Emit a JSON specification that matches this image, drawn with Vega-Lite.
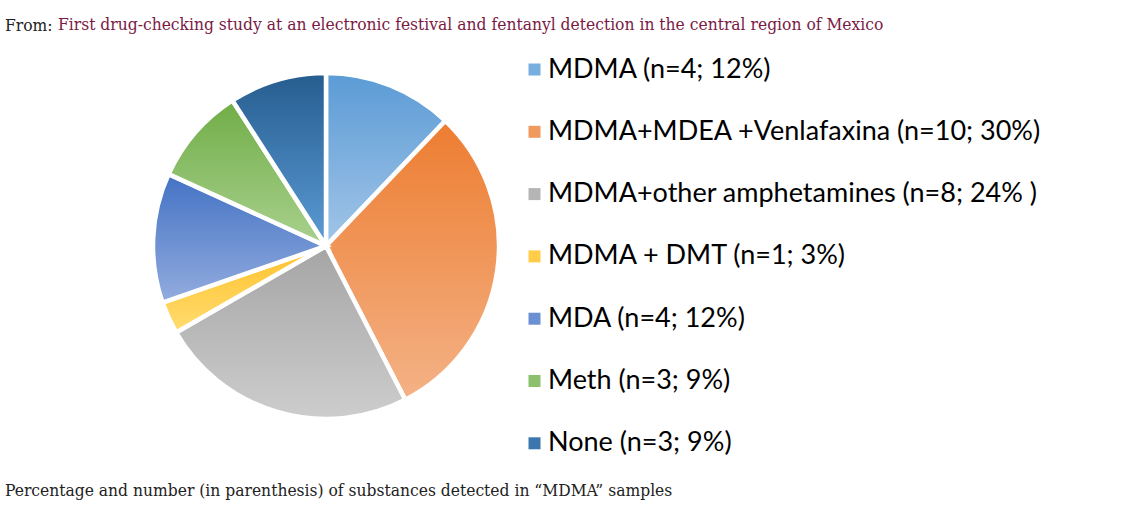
{
  "$schema": "https://vega.github.io/schema/vega-lite/v6.json",
  "padding": {"left": 5, "top": 15, "right": 0, "bottom": 0},
  "background": "white",
  "config": {"view": {"stroke": null}, "concat": {"spacing": 0}},
  "title": {"text": "From:", "anchor": "start", "font": "DejaVu Serif Condensed, DejaVu Serif", "fontSize": 17.3, "fontWeight": "normal", "color": "#222222", "offset": -18.5},
  "vconcat": [
    {
      "title": {"text": "First drug-checking study at an electronic festival and fentanyl detection in the central region of Mexico", "anchor": "start", "dx": 53, "font": "DejaVu Serif Condensed, DejaVu Serif", "fontSize": 17.3, "fontWeight": "normal", "color": "#7a1a44", "offset": 8},
      "vconcat": [
        {
          "width": 642,
          "height": 410,
          "title": {"text": "Percentage and number (in parenthesis) of substances detected in “MDMA” samples", "orient": "bottom", "anchor": "start", "font": "DejaVu Serif Condensed, DejaVu Serif", "fontSize": 17.3, "fontWeight": "normal", "color": "#222222", "offset": 31},
          "data": {"values": [
            {"substance": "MDMA (n=4; 12%)", "n": 4, "order": 1},
            {"substance": "MDMA+MDEA +Venlafaxina (n=10; 30%)", "n": 10, "order": 2},
            {"substance": "MDMA+other amphetamines (n=8; 24% )", "n": 8, "order": 3},
            {"substance": "MDMA + DMT (n=1; 3%)", "n": 1, "order": 4},
            {"substance": "MDA (n=4; 12%)", "n": 4, "order": 5},
            {"substance": "Meth (n=3; 9%)", "n": 3, "order": 6},
            {"substance": "None (n=3; 9%)", "n": 3, "order": 7}
          ]},
          "mark": {"type": "arc", "radius": 173, "stroke": "white", "strokeWidth": 4.5, "strokeJoin": "miter"},
          "encoding": {
            "theta": {"field": "n", "type": "quantitative", "stack": true},
            "order": {"field": "order", "type": "quantitative", "sort": "ascending"},
            "fill": {
              "field": "substance",
              "type": "nominal",
              "condition": [
                {"test": "datum.order === 1", "value": {"gradient": "linear", "x1": 0, "y1": 0, "x2": 0, "y2": 1, "stops": [{"offset": 0, "color": "#5b9bd5"}, {"offset": 1, "color": "#a2c5e8"}]}},
                {"test": "datum.order === 2", "value": {"gradient": "linear", "x1": 0, "y1": 0, "x2": 0, "y2": 1, "stops": [{"offset": 0, "color": "#ed7d31"}, {"offset": 1, "color": "#f4b286"}]}},
                {"test": "datum.order === 3", "value": {"gradient": "linear", "x1": 0, "y1": 0, "x2": 0, "y2": 1, "stops": [{"offset": 0, "color": "#a5a5a5"}, {"offset": 1, "color": "#cdcdcd"}]}},
                {"test": "datum.order === 4", "value": {"gradient": "linear", "x1": 0, "y1": 0, "x2": 0, "y2": 1, "stops": [{"offset": 0, "color": "#ffc12a"}, {"offset": 1, "color": "#ffdc70"}]}},
                {"test": "datum.order === 5", "value": {"gradient": "linear", "x1": 0, "y1": 0, "x2": 0, "y2": 1, "stops": [{"offset": 0, "color": "#4472c4"}, {"offset": 1, "color": "#92acde"}]}},
                {"test": "datum.order === 6", "value": {"gradient": "linear", "x1": 0, "y1": 0, "x2": 0, "y2": 1, "stops": [{"offset": 0, "color": "#70ad47"}, {"offset": 1, "color": "#a9d18e"}]}},
                {"test": "datum.order === 7", "value": {"gradient": "linear", "x1": 0, "y1": 0, "x2": 0, "y2": 1, "stops": [{"offset": 0, "color": "#265d8f"}, {"offset": 1, "color": "#5b9bd5"}]}}
              ],
              "scale": {
                "domain": ["MDMA (n=4; 12%)", "MDMA+MDEA +Venlafaxina (n=10; 30%)", "MDMA+other amphetamines (n=8; 24% )", "MDMA + DMT (n=1; 3%)", "MDA (n=4; 12%)", "Meth (n=3; 9%)", "None (n=3; 9%)"],
                "range": ["#78ade0", "#f09a5f", "#b5b5b5", "#ffcd48", "#6a8fd2", "#8cc06c", "#3b77ad"]
              },
              "legend": {
                "orient": "none",
                "legendX": 516,
                "legendY": 15,
                "title": null,
                "symbolType": "square",
                "symbolSize": 144,
                "symbolStrokeWidth": 0,
                "labelFont": "Lato",
                "labelFontSize": 27,
                "labelColor": "#000000",
                "labelLimit": 0,
                "labelOffset": 0,
                "rowPadding": 34.3
              }
            }
          }
        }
      ]
    }
  ]
}
